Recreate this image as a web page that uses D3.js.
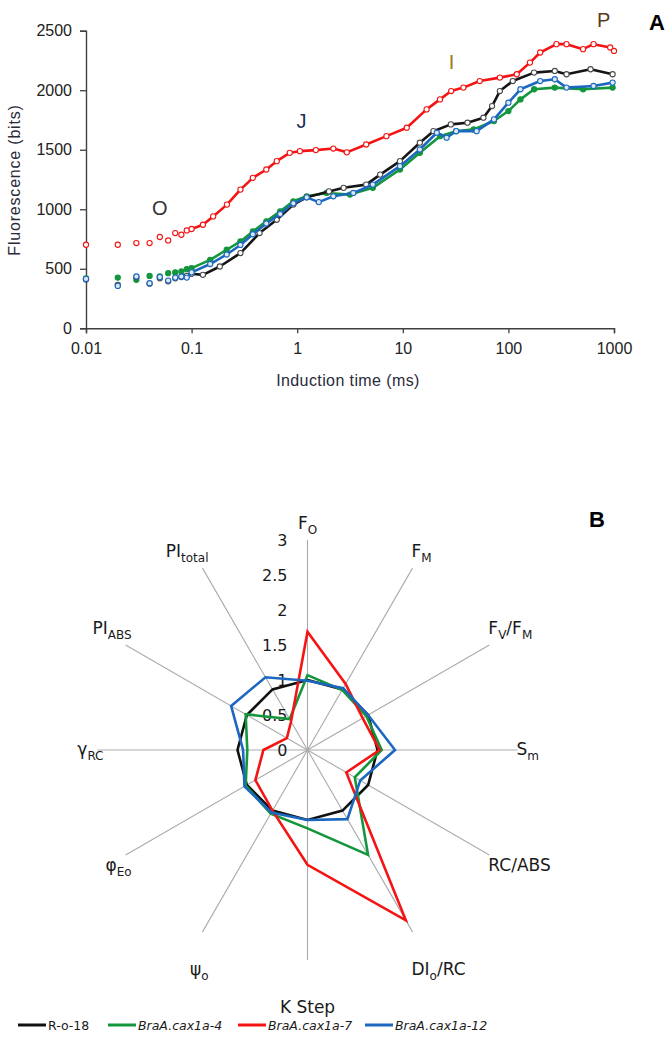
<!DOCTYPE html>
<html>
<head>
<meta charset="utf-8">
<script src="https://cdn.jsdelivr.net/npm/d3@7"></script>
<style>
body { margin: 0; background: #fff; }
svg { display: block; }
</style>
</head>
<body>
<svg id="chart" width="670" height="1040"></svg>
<script>
// ---- panel A : OJIP transients (time in ms, fluorescence in bits)
const early = [0.01, 0.02, 0.03, 0.04, 0.05, 0.06, 0.07, 0.08, 0.09];

const timeRed = early.concat([0.1, 0.128, 0.16, 0.216, 0.29, 0.38, 0.51, 0.64, 0.85, 1.06, 1.5, 2.2, 2.95, 4.5, 7, 10.9, 16.8, 22.5, 28.7, 37.5, 53.5, 83, 120, 160, 200, 285, 355, 510, 640, 920, 1000]);
const fluoRed = [702, 702, 716, 716, 767, 738, 800, 786, 822, 834, 870, 940, 1039, 1165, 1264, 1334, 1404, 1474, 1488, 1497, 1510, 1478, 1544, 1614, 1685, 1839, 1923, 1993, 2022, 2077, 2106, 2134, 2232, 2317, 2387, 2387, 2345, 2387, 2359, 2330];

const timeBlack = early.concat([0.1, 0.128, 0.185, 0.29, 0.44, 0.64, 0.92, 1.23, 2, 2.75, 4.5, 6.1, 9.4, 14.5, 19.5, 28.5, 41, 58, 70, 83, 110, 175, 275, 355, 600, 970]);
const fluoBlack = [410, 365, 430, 375, 420, 395, 420, 430, 440, 458, 449, 519, 632, 800, 912, 1039, 1100, 1150, 1180, 1207, 1291, 1404, 1559, 1656, 1713, 1727, 1769, 1867, 1993, 2077, 2148, 2162, 2134, 2176, 2134];

const timeGreen = early.concat([0.1, 0.15, 0.215, 0.29, 0.38, 0.51, 0.69, 0.92, 1.23, 1.9, 3.16, 5.2, 9.4, 14.5, 22.5, 32, 47, 73, 100, 130, 175, 275, 510, 970]);
const fluoGreen = [420, 426, 407, 440, 435, 463, 469, 477, 497, 505, 575, 660, 730, 814, 898, 982, 1067, 1109, 1137, 1123, 1180, 1334, 1474, 1614, 1656, 1671, 1741, 1825, 1923, 2008, 2022, 2008, 2022];

const timeBlue = early.concat([0.1, 0.15, 0.215, 0.29, 0.38, 0.51, 0.69, 0.92, 1.23, 1.6, 2.2, 3.4, 5.2, 9.4, 14.5, 21, 26, 32, 50, 73, 100, 130, 200, 275, 355, 640, 970]);
const fluoBlue = [415, 356, 435, 379, 430, 401, 426, 435, 426, 470, 540, 620, 700, 790, 880, 960, 1050, 1100, 1060, 1109, 1137, 1207, 1362, 1502, 1643, 1601, 1656, 1656, 1755, 1895, 2008, 2077, 2092, 2022, 2036, 2064];

const xTicks = [0.01, 0.1, 1, 10, 100, 1000];
const yTicks = [0, 500, 1000, 1500, 2000, 2500];
const stepNames = ["O", "J", "I", "P"];
const stepTimes = [0.05, 1.1, 29, 800];
const stepValues = [950, 1680, 2180, 2530];

// ---- panel B : JIP-test parameters relative to R-o-18
const radarAxes = ["Fo", "FM", "FV/FM", "Sm", "RC/ABS", "DIo/RC", "K Step", "ψo", "φEo", "γRC", "PIABS", "PItotal"];
const radarTicks = [0, 0.5, 1, 1.5, 2, 2.5, 3];
const valRo18  = [1, 1, 1, 1, 1, 1, 1, 1, 1, 1, 1, 1];
const valCax4  = [1.07, 0.99, 0.97, 1.06, 0.78, 1.73, 1.12, 1.05, 1.02, 0.86, 1.02, 0.51];
const valCax7  = [1.69, 1.09, 0.91, 1.03, 0.64, 2.81, 1.64, 1.0, 0.86, 0.63, 0.34, 0.47];
const valCax12 = [0.99, 1.02, 1.0, 1.25, 0.87, 1.14, 1.0, 1.03, 1.04, 0.92, 1.26, 1.2];
const seriesNames = ["R-o-18", "BraA.cax1a-4", "BraA.cax1a-7", "BraA.cax1a-12"];

const colors = ["#111111", "#13963c", "#f41414", "#1c68c0"];

const svg = d3.select("#chart");

// ================= panel A =================
const x = d3.scaleLog().domain([0.01, 1000]).range([86, 614]);
const y = d3.scaleLinear().domain([0, 2500]).range([328.3, 30.7]);

const axisFont = "'Liberation Sans', Arial, sans-serif";

const gx = svg.append("g")
    .attr("transform", "translate(0,328.3)")
    .call(d3.axisBottom(x).tickValues(xTicks).tickFormat(d => String(d)).tickSize(5).tickPadding(9));
const gy = svg.append("g")
    .attr("transform", "translate(86,0)")
    .call(d3.axisLeft(y).tickValues(yTicks).tickFormat(d => String(d)).tickSize(6).tickPadding(8));
[gx, gy].forEach(g => {
    g.select(".domain").attr("stroke", "#404040").attr("stroke-width", 1.4);
    g.selectAll(".tick line").attr("stroke", "#404040").attr("stroke-width", 1.3);
    g.selectAll("text").attr("font-family", axisFont).attr("font-size", 16).attr("fill", "#222");
});

svg.append("text")
    .attr("transform", "translate(20,180) rotate(-90)")
    .attr("text-anchor", "middle")
    .attr("font-family", axisFont).attr("font-size", 16).attr("letter-spacing", 0.8)
    .attr("fill", "#2a2a3a")
    .text("Fluorescence (bits)");
svg.append("text")
    .attr("x", 348).attr("y", 386)
    .attr("text-anchor", "middle")
    .attr("font-family", axisFont).attr("font-size", 16).attr("letter-spacing", 0.4)
    .attr("fill", "#2a2a3a")
    .text("Induction time (ms)");

const curves = [
    { t: timeGreen, f: fluoGreen, c: colors[1], fill: colors[1] },
    { t: timeBlack, f: fluoBlack, c: "#151515", fill: "#fff", mark: "#4a4a4a" },
    { t: timeBlue,  f: fluoBlue,  c: colors[3], fill: "#dfe9f6" },
    { t: timeRed,   f: fluoRed,   c: colors[2], fill: "#fff" }
];

const line = d3.line().x(d => x(d[0])).y(d => y(d[1]));

curves.forEach(cv => {
    const pts = cv.t.map((t, i) => [t, cv.f[i]]);
    svg.append("path")
        .datum(pts.filter(d => d[0] >= 0.09))
        .attr("fill", "none")
        .attr("stroke", cv.c)
        .attr("stroke-width", 2.6)
        .attr("stroke-linejoin", "round")
        .attr("d", line);
    svg.append("g").selectAll("circle")
        .data(pts)
        .join("circle")
        .attr("cx", d => x(d[0]))
        .attr("cy", d => y(d[1]))
        .attr("r", 2.6)
        .attr("fill", cv.fill)
        .attr("stroke", cv.mark || cv.c)
        .attr("stroke-width", 1.1);
});

const stepColors = ["#333333", "#1d2d5a", "#9a7a1e", "#5a3a1c"];
svg.append("g").selectAll("text")
    .data(stepNames)
    .join("text")
    .attr("x", (d, i) => x(stepTimes[i]))
    .attr("y", (d, i) => y(stepValues[i]))
    .attr("text-anchor", "middle")
    .attr("font-family", axisFont).attr("font-size", 20)
    .attr("fill", (d, i) => stepColors[i])
    .text(d => d);

svg.append("text")
    .attr("x", 657).attr("y", 30)
    .attr("text-anchor", "middle")
    .attr("font-family", axisFont).attr("font-size", 22).attr("font-weight", "bold")
    .text("A");

// ================= panel B =================
const cx = 307.5, cy = 750;
const r = d3.scaleLinear().domain([0, 3]).range([0, 210]);
const angle = d3.scaleLinear().domain([0, radarAxes.length]).range([0, 2 * Math.PI]);
const radarFont = "'DejaVu Sans', Verdana, sans-serif";

const gR = svg.append("g").attr("transform", `translate(${cx},${cy})`);

gR.append("g").selectAll("line")
    .data(radarAxes)
    .join("line")
    .attr("x1", 0).attr("y1", 0)
    .attr("x2", (d, i) => r(3) * Math.sin(angle(i)))
    .attr("y2", (d, i) => -r(3) * Math.cos(angle(i)))
    .attr("stroke", "#ababab")
    .attr("stroke-width", 1.1);

gR.append("g").selectAll("text")
    .data(radarTicks)
    .join("text")
    .attr("x", -20)
    .attr("y", d => -r(d))
    .attr("dy", "0.36em")
    .attr("text-anchor", "end")
    .attr("font-family", radarFont).attr("font-size", 16).attr("fill", "#1a1a1a")
    .text(d => String(d));

const radial = d3.lineRadial()
    .angle((d, i) => angle(i))
    .radius(d => r(d))
    .curve(d3.curveLinearClosed);

[valRo18, valCax4, valCax7, valCax12].forEach((vals, k) => {
    gR.append("path")
        .datum(vals)
        .attr("fill", "none")
        .attr("stroke", colors[k])
        .attr("stroke-width", 2.6)
        .attr("stroke-linejoin", "miter")
        .attr("d", radial);
});

// axis labels with subscripts
const labelParts = [
    [["F", 0], ["O", 1]],
    [["F", 0], ["M", 1]],
    [["F", 0], ["V", 1], ["/F", 0], ["M", 1]],
    [["S", 0], ["m", 1]],
    [["RC/ABS", 0]],
    [["DI", 0], ["o", 1], ["/RC", 0]],
    [["K Step", 0]],
    [["ψ", 0], ["o", 1]],
    [["φ", 0], ["Eo", 1]],
    [["γ", 0], ["RC", 1]],
    [["PI", 0], ["ABS", 1]],
    [["PI", 0], ["total", 1]]
];

// labels hang off the spoke ends: right side starts there, left side ends there
radarAxes.forEach((name, i) => {
    const a = angle(i);
    const s = Math.sin(a), c = Math.cos(a);
    const ex = r(3) * s, ey = -r(3) * c;
    let anchor = "middle", lx = ex;
    if (s > 0.1) { anchor = "start"; lx = ex - 1; }
    else if (s < -0.1) { anchor = "end"; lx = ex + 6; }
    let ly;
    if (c > 0.3) ly = ey - 11;
    else if (c > -0.3) ly = ey + 5;
    else ly = ey + 16 + 37 * Math.max(0, (-c - 0.5) / 0.5);
    const t = gR.append("text")
        .attr("x", lx).attr("y", ly)
        .attr("text-anchor", anchor)
        .attr("font-family", radarFont).attr("font-size", 17).attr("fill", "#1a1a1a");
    let shifted = false;
    labelParts[i].forEach(([str, sub]) => {
        const ts = t.append("tspan").text(str);
        if (sub && !shifted) { ts.attr("dy", 5).attr("font-size", 12); shifted = true; }
        else if (sub) { ts.attr("font-size", 12); }
        else if (shifted) { ts.attr("dy", -5); shifted = false; }
    });
});

svg.append("text")
    .attr("x", 597).attr("y", 527)
    .attr("text-anchor", "middle")
    .attr("font-family", axisFont).attr("font-size", 22).attr("font-weight", "bold")
    .text("B");

// legend
const legendX = [18, 108, 238, 365];
const lg = svg.append("g").attr("transform", "translate(0,1025)");
seriesNames.forEach((name, k) => {
    lg.append("line")
        .attr("x1", legendX[k]).attr("x2", legendX[k] + 28)
        .attr("y1", 0).attr("y2", 0)
        .attr("stroke", colors[k]).attr("stroke-width", 3);
    lg.append("text")
        .attr("x", legendX[k] + 30).attr("y", 4.5)
        .attr("font-family", radarFont).attr("font-size", 12.5)
        .attr("font-style", k === 0 ? "normal" : "italic")
        .attr("fill", "#1a1a1a")
        .text(name);
});
</script>
</body>
</html>
